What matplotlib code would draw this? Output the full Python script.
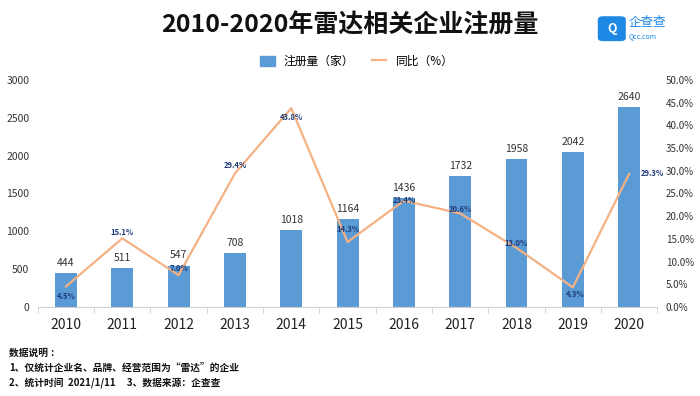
import matplotlib.pyplot as plt
import numpy as np
from matplotlib.patches import FancyBboxPatch, Rectangle
from matplotlib.lines import Line2D

plt.rcParams['font.family'] = ['Noto Sans CJK SC', 'DejaVu Sans']

# 数据
years = ['2010', '2011', '2012', '2013', '2014', '2015', '2016', '2017', '2018', '2019', '2020']
registrations = [444, 511, 547, 708, 1018, 1164, 1436, 1732, 1958, 2042, 2640]
yoy = [4.5, 15.1, 7.0, 29.4, 43.8, 14.3, 23.4, 20.6, 13.0, 4.3, 29.3]
left_ticks = [0, 500, 1000, 1500, 2000, 2500, 3000]
right_ticks = [0, 5, 10, 15, 20, 25, 30, 35, 40, 45, 50]

bar_color = '#5B9BD5'
line_color = '#F4B183'

fig = plt.figure(figsize=(7, 3.96), dpi=100)
ax = fig.add_axes([0.054, 0.225, 0.885, 0.573])
ax2 = ax.twinx()

x = np.arange(len(years))
ax.bar(x, registrations, width=0.39, color=bar_color, zorder=2)
for xi, v in zip(x, registrations):
    ax.text(xi, v + 70, str(v), ha='center', va='bottom', fontsize=7.5, color='#333333')

ax.set_xlim(-0.5, len(years) - 0.5)
ax.set_ylim(0, 3000)
ax.set_yticks(left_ticks)
ax.set_yticklabels([str(t) for t in left_ticks], fontsize=7.5, color='#333333')
ax.set_xticks(x)
ax.set_xticklabels(years, fontsize=10, color='#222222')
ax.set_xticks(np.arange(-0.5, len(years), 1), minor=True)
ax.tick_params(axis='x', which='major', length=0, pad=8)
ax.tick_params(axis='x', which='minor', length=4, color='#D0D0D0')
ax.tick_params(axis='y', length=0, pad=6)
for s in ['top', 'right', 'left']:
    ax.spines[s].set_visible(False)
ax.spines['bottom'].set_color('#D0D0D0')

# 同比折线
ax2.plot(x, yoy, color=line_color, lw=1.6, zorder=3)
offsets = [(0, -7), (0, 4), (0, 5), (0, 6), (0, -7), (0, 9), (0, 0), (0, 3), (0, 3), (2, -5), (17, 0)]
for xi, v, (dx, dy) in zip(x, yoy, offsets):
    ax2.annotate('%.1f%%' % v, (xi, v), xytext=(dx, dy), textcoords='offset points',
                 ha='center', va='center', fontsize=5.5, fontweight='bold', color='#1F3D7A')
ax2.set_ylim(0, 50)
ax2.set_yticks(right_ticks)
ax2.set_yticklabels(['%.1f%%' % t for t in right_ticks], fontsize=7, color='#333333')
ax2.tick_params(axis='y', length=0, pad=6)
for s in ['top', 'right', 'left', 'bottom']:
    ax2.spines[s].set_visible(False)

# 标题
fig.text(0.5, 0.935, '2010-2020年雷达相关企业注册量', ha='center', va='center',
         fontsize=18, fontweight='bold', color='#111111')

# 图例
handles = [Rectangle((0, 0), 1, 1, color=bar_color), Line2D([0], [0], color=line_color, lw=1.6)]
fig.legend(handles, ['注册量（家）', '同比（%）'], loc='center', bbox_to_anchor=(0.51, 0.845),
           ncol=2, frameon=False, fontsize=8.5, handlelength=1.2, handleheight=0.9, columnspacing=1.5)

# 企查查标志
logo = FancyBboxPatch((0.858, 0.9), 0.032, 0.055, boxstyle='round,pad=0.004,rounding_size=0.008',
                      transform=fig.transFigure, facecolor='#1E88E5', edgecolor='none')
fig.patches.append(logo)
fig.text(0.874, 0.928, 'Q', ha='center', va='center', fontsize=9, fontweight='bold', color='white')
fig.text(0.898, 0.943, '企查查', ha='left', va='center', fontsize=9, color='#1E88E5')
fig.text(0.898, 0.908, 'Qcc.com', ha='left', va='center', fontsize=5, color='#1E88E5')

# 数据说明
fig.text(0.013, 0.11, '数据说明 ：', fontsize=7, fontweight='bold', va='center', color='#111111')
fig.text(0.013, 0.072, '1、仅统计企业名、品牌、经营范围为“雷达”的企业', fontsize=7, fontweight='bold',
         va='center', color='#111111')
fig.text(0.013, 0.033, '2、统计时间  2021/1/11     3、数据来源：企查查', fontsize=7, fontweight='bold',
         va='center', color='#111111')

fig.savefig('out.png', dpi=100)
